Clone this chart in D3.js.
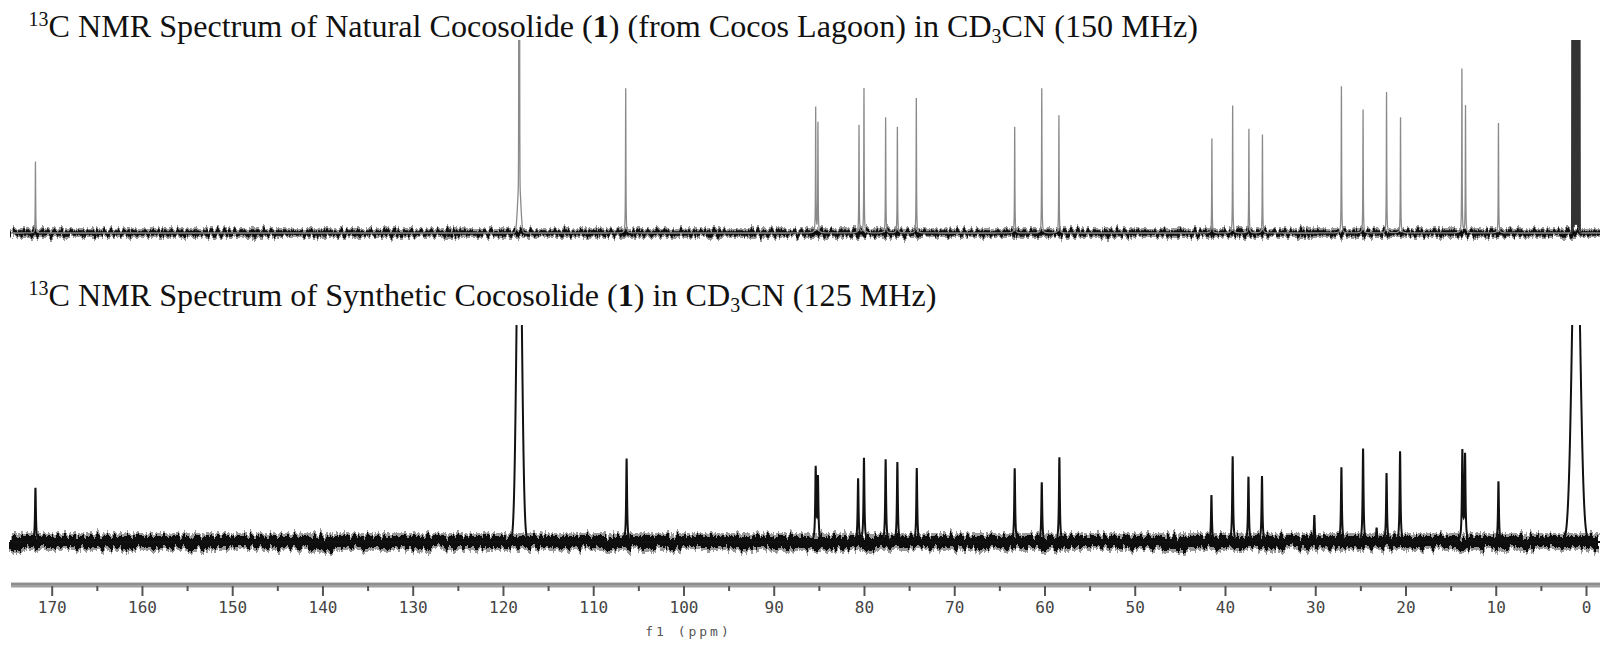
<!DOCTYPE html>
<html lang="en">
<head>
<meta charset="UTF-8">
<title>13C NMR cocosolide</title>
<script src="https://d3js.org/d3.v7.min.js"></script>
<style>
    body { margin: 0; background: #fff; }
    .title { font-family: "Liberation Serif", "Times New Roman", serif; fill: #111; }
    .axis text { font-family: "DejaVu Sans Mono", monospace; fill: #444; }
</style>
</head>
<body>
<svg id="chart" width="1600" height="646"></svg>
<script>
    // natural sample (150 MHz) - shift in ppm, height in % of panel
    let natShift  = [171.8, 106.4, 85.35, 85.1, 80.55, 80.0, 77.6, 76.3, 74.2, 63.3, 60.3, 58.4,
                     41.45, 39.15, 37.35, 35.85, 27.1, 24.7, 22.1, 20.55, 13.75, 13.35, 9.7]
    let natHeight = [37, 75, 65, 57, 56, 75, 60, 55, 70, 55, 75, 61,
                     49, 66, 54, 51, 76, 64, 73, 60, 85, 66, 57]
    // CD3CN lines: CN singlet + foot, CD3 septet
    let natSolShift  = [118.2, 118.2, 1.54, 1.40, 1.26, 1.12, 0.98, 0.84, 0.70]
    let natSolHeight = [400, 27, 150, 450, 900, 1050, 900, 450, 150]
    let natSolSigma  = [0.03, 0.17, 0.02, 0.02, 0.02, 0.02, 0.02, 0.02, 0.02]

    // synthetic sample (125 MHz)
    let synShift  = [171.8, 106.3, 85.35, 85.1, 80.65, 80.0, 77.6, 76.3, 74.15, 63.3, 60.3, 58.35,
                     41.5, 39.15, 37.4, 35.9, 30.1, 27.1, 24.7, 23.2, 22.1, 20.6, 13.7, 13.4, 9.7]
    let synHeight = [25, 38.5, 33.5, 29, 29, 38.5, 38, 36.7, 34, 34, 27.5, 39,
                     21.6, 39.4, 30, 30.3, 12.4, 34.4, 43, 6.4, 31.6, 41.7, 41.3, 39.5, 28]
    let synSolShift  = [118.2, 1.1]
    let synSolHeight = [175, 170]
    let synSolSigma  = [0.28, 0.42]

    let majorTicks = [170, 160, 150, 140, 130, 120, 110, 100, 90, 80, 70, 60, 50, 40, 30, 20, 10, 0]
    let minorTicks = [165, 155, 145, 135, 125, 115, 105, 95, 85, 75, 65, 55, 45, 35, 25, 15, 5]

    let svg = d3.select("#chart")
    let x = d3.scaleLinear().domain([170, 0]).range([51.7, 1586])
    let yNat = d3.scaleLinear().domain([0, 100]).range([233, 40])
    let ySyn = d3.scaleLinear().domain([0, 100]).range([542, 325])

    let ppmLeft = x.invert(11), ppmRight = x.invert(1600)
    let grid = d3.range(ppmLeft, ppmRight, -0.01)

    function trace(shift, h, w, solShift, solH, solS) {
        return grid.map(function (p) {
            let s = 0
            for (let i = 0; i < shift.length; i++) {
                let d = (p - shift[i]) / w
                s += h[i] / (1 + d * d)
            }
            for (let i = 0; i < solShift.length; i++) {
                let d = (p - solShift[i]) / solS[i]
                s += solH[i] * Math.exp(-0.5 * d * d)
            }
            return [p, s]
        })
    }

    let defs = svg.append("defs")
    // texture for the baseline band (style only)
    function jagFilter(id, scale, seed) {
        let f = defs.append("filter").attr("id", id).attr("filterUnits", "userSpaceOnUse")
            .attr("x", 0).attr("y", 0).attr("width", 1600).attr("height", 646)
        f.append("feTurbulence").attr("type", "fractalNoise").attr("baseFrequency", "0.3 0.03")
            .attr("numOctaves", 3).attr("seed", seed).attr("result", "n")
        f.append("feDisplacementMap").attr("in", "SourceGraphic").attr("in2", "n")
            .attr("scale", scale).attr("xChannelSelector", "G").attr("yChannelSelector", "R")
    }
    jagFilter("jagTop", 12, 3)
    jagFilter("jagBot", 15, 7)

    defs.append("clipPath").attr("id", "clipNat").append("rect")
        .attr("x", 0).attr("y", 40).attr("width", 1600).attr("height", 225)
    defs.append("clipPath").attr("id", "clipSyn").append("rect")
        .attr("x", 0).attr("y", 325).attr("width", 1600).attr("height", 250)
    defs.append("clipPath").attr("id", "clipSept").append("rect")
        .attr("x", x(1.75)).attr("y", 40).attr("width", x(0.5) - x(1.75)).attr("height", 225)

    // noisy baseline band
    function band(y0, w, halo, filt) {
        let g = svg.append("g").attr("filter", "url(#" + filt + ")")
        let l = d3.line()([[x(ppmLeft), y0], [x(ppmRight), y0]])
        g.append("path").attr("d", l).attr("stroke", "#9a9a9a").attr("stroke-width", halo).attr("fill", "none")
        g.append("path").attr("d", l).attr("stroke", "#111").attr("stroke-width", w).attr("fill", "none")
    }

    // natural spectrum
    band(yNat(0), 5.5, 10, "jagTop")
    let natLine = d3.line().x(d => x(d[0])).y(d => yNat(d[1]))
    let natD = natLine(trace(natShift, natHeight, 0.025, natSolShift, natSolHeight, natSolSigma))
    svg.append("path").attr("d", natD)
        .attr("clip-path", "url(#clipNat)")
        .attr("fill", "none").attr("stroke", "#8a8a8a").attr("stroke-width", 1.3)
    svg.append("path").attr("d", natD)
        .attr("clip-path", "url(#clipSept)")
        .attr("fill", "none").attr("stroke", "#333").attr("stroke-width", 1.3)

    // synthetic spectrum
    band(ySyn(0), 12, 18, "jagBot")
    let synLine = d3.line().x(d => x(d[0])).y(d => ySyn(d[1]))
    svg.append("path")
        .attr("d", synLine(trace(synShift, synHeight, 0.06, synSolShift, synSolHeight, synSolSigma)))
        .attr("clip-path", "url(#clipSyn)")
        .attr("fill", "none").attr("stroke", "#111").attr("stroke-width", 2)

    // ppm axis
    let axisY = 586
    svg.append("line").attr("x1", 11).attr("x2", 1600).attr("y1", axisY - 1).attr("y2", axisY - 1)
        .attr("stroke", "#a0a0a0").attr("stroke-width", 5)
    svg.append("line").attr("x1", 11).attr("x2", 1600).attr("y1", axisY - 2).attr("y2", axisY - 2)
        .attr("stroke", "#7a7a7a").attr("stroke-width", 1.2)
    let ax = svg.append("g").attr("class", "axis").attr("transform", "translate(0," + axisY + ")")
        .call(d3.axisBottom(x).tickValues(majorTicks).tickSize(10).tickPadding(6).tickFormat(d3.format("d")))
    ax.select(".domain").remove()
    ax.selectAll(".tick line").attr("stroke", "#555").attr("stroke-width", 2)
    ax.selectAll(".tick text").attr("font-size", 16)
    let axm = svg.append("g").attr("transform", "translate(0," + axisY + ")")
        .call(d3.axisBottom(x).tickValues(minorTicks).tickSize(5).tickFormat(""))
    axm.select(".domain").remove()
    axm.selectAll(".tick line").attr("stroke", "#555").attr("stroke-width", 2)
    svg.append("text").attr("x", x(100) + 5).attr("y", 636)
        .attr("text-anchor", "middle").attr("font-family", "DejaVu Sans Mono, monospace")
        .attr("font-size", 13).attr("letter-spacing", 3).attr("fill", "#555").text("f1 (ppm)")

    // titles
    function title(yBase, parts) {
        let t = svg.append("text").attr("class", "title").attr("x", 28.6).attr("y", yBase)
        parts.forEach(function (p) {
            let s = t.append("tspan").text(p[0])
            if (p[1] === "sup") s.attr("font-size", "62%").attr("dy", "-0.55em")
            if (p[1] === "sub") s.attr("font-size", "62%").attr("dy", "0.3em")
            if (p[1] === "b") s.attr("font-weight", "bold")
            if (p[2]) s.attr("dy", p[2])
        })
        return t
    }
    let t1 = title(37, [["13", "sup"], ["C NMR Spectrum of Natural Cocosolide (", "", "0.34em"], ["1", "b"],
        [") (from Cocos Lagoon) in CD", ""], ["3", "sub"], ["CN (150 MHz)", "", "-0.186em"]])
    let t2 = title(306, [["13", "sup"], ["C NMR Spectrum of Synthetic Cocosolide (", "", "0.34em"], ["1", "b"],
        [") in CD", ""], ["3", "sub"], ["CN (125 MHz)", "", "-0.186em"]])
    t1.attr("font-size", 30)
    let fs = 30 * 1170 / t1.node().getComputedTextLength()
    t1.attr("font-size", fs)
    t2.attr("font-size", fs)
</script>
</body>
</html>
